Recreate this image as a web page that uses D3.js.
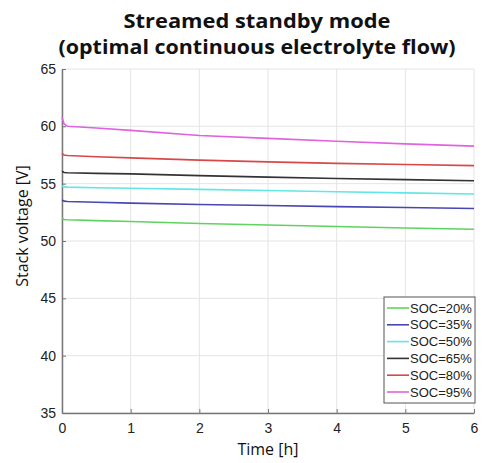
<!DOCTYPE html>
<html>
<head>
<meta charset="utf-8">
<title>Streamed standby mode</title>
<script src="https://cdn.jsdelivr.net/npm/d3@7"></script>
<style>
  body { margin: 0; background: #fff; }
  svg text { font-family: "Liberation Sans", Arial, sans-serif; }
</style>
</head>
<body>
<div id="chart"></div>
<script>
  // time points [h]
  var times = [0, 0.03, 0.08, 0.5, 1, 2, 3, 4, 5, 6];

  // stack voltage per SOC [V]
  var soc20 = [51.98, 51.88, 51.85, 51.78, 51.7, 51.52, 51.4, 51.26, 51.14, 51.03];
  var soc35 = [53.58, 53.48, 53.45, 53.38, 53.3, 53.18, 53.1, 53.0, 52.92, 52.83];
  var soc50 = [54.8, 54.72, 54.7, 54.65, 54.6, 54.5, 54.4, 54.3, 54.2, 54.1];
  var soc65 = [56.1, 55.98, 55.95, 55.9, 55.85, 55.7, 55.57, 55.45, 55.35, 55.26];
  var soc80 = [57.65, 57.5, 57.45, 57.35, 57.25, 57.05, 56.9, 56.77, 56.67, 56.57];
  var soc95 = [60.8, 60.2, 60.0, 59.85, 59.65, 59.2, 58.95, 58.7, 58.47, 58.27];

  var labels = ["SOC=20%", "SOC=35%", "SOC=50%", "SOC=65%", "SOC=80%", "SOC=95%"];
  var colors = ["#5fd35f", "#4646b4", "#62e6e6", "#333333", "#d94848", "#e062e0"];
  var seriesValues = [soc20, soc35, soc50, soc65, soc80, soc95];

  var xTicks = [0, 1, 2, 3, 4, 5, 6];
  var yTicks = [35, 40, 45, 50, 55, 60, 65];

  var margin = {left: 62, right: 12, top: 69, bottom: 50};
  var W = 486, H = 463;
  var wid = W - margin.left - margin.right;
  var high = H - margin.top - margin.bottom;

  var svg = d3.select("#chart").append("svg")
    .attr("width", W).attr("height", H);

  // title
  var title = svg.append("g").attr("font-weight", "bold").attr("fill", "#111");
  title.append("text").text("Streamed  standby mode")
    .attr("x", 257).attr("y", 28).attr("text-anchor", "middle")
    .style("font-family", "'Open Sans', sans-serif").attr("font-size", 19)
    .attr("textLength", 267).attr("lengthAdjust", "spacingAndGlyphs");
  title.append("text").text("(optimal continuous electrolyte flow)")
    .attr("x", 257).attr("y", 54).attr("text-anchor", "middle")
    .style("font-family", "'Open Sans', sans-serif").attr("font-size", 19)
    .attr("textLength", 397).attr("lengthAdjust", "spacingAndGlyphs");

  var g = svg.append("g")
    .attr("transform", translate(margin.left, margin.top));

  var x = d3.scaleLinear().domain([0, 6]).range([0, wid]);
  var y = d3.scaleLinear().domain([35, 65]).range([high, 0]);

  // grid
  g.selectAll(".vgrid").data(xTicks).enter().append("line")
    .attr("x1", function(d) { return x(d); }).attr("x2", function(d) { return x(d); })
    .attr("y1", 0).attr("y2", high)
    .attr("stroke", "#e4e4e4").attr("stroke-width", 1);
  g.selectAll(".hgrid").data(yTicks).enter().append("line")
    .attr("x1", 0).attr("x2", wid)
    .attr("y1", function(d) { return y(d); }).attr("y2", function(d) { return y(d); })
    .attr("stroke", "#e4e4e4").attr("stroke-width", 1);

  // axes
  var xaxis = d3.axisBottom(x).tickValues(xTicks).tickFormat(d3.format("d"))
    .tickSizeInner(-4).tickSizeOuter(0).tickPadding(10);
  var yaxis = d3.axisLeft(y).tickValues(yTicks).tickFormat(d3.format("d"))
    .tickSizeInner(-4).tickSizeOuter(0).tickPadding(8);

  var gx = g.append("g").attr("transform", translate(0, high)).call(xaxis);
  var gy = g.append("g").call(yaxis);
  [gx, gy].forEach(function(a) {
    a.select(".domain").attr("stroke", "#777").attr("stroke-width", 1.5);
    a.selectAll(".tick line").attr("stroke", "#777");
    a.selectAll(".tick text").attr("font-size", 14).attr("fill", "#222")
      .style("font-family", "'Liberation Sans', Arial, sans-serif");
  });
  gy.selectAll(".tick text").attr("dx", "2");

  // lines
  var line = d3.line()
    .x(function(d) { return x(d[0]); })
    .y(function(d) { return y(d[1]); });

  seriesValues.forEach(function(vals, i) {
    g.append("path")
      .datum(times.map(function(t, j) { return [t, vals[j]]; }))
      .attr("fill", "none")
      .attr("stroke", colors[i])
      .attr("stroke-width", 1.6)
      .attr("d", line);
  });

  // axis titles
  g.append("text").text("Time [h]")
    .attr("x", 206).attr("y", high + 42).attr("text-anchor", "middle")
    .attr("font-size", 16).attr("fill", "#111")
    .style("font-family", "'Open Sans', sans-serif");
  g.append("text").text("Stack voltage [V]")
    .attr("text-anchor", "middle").attr("font-size", 16).attr("fill", "#111")
    .style("font-family", "'Open Sans', sans-serif")
    .attr("transform", translate(-34, 157) + " rotate(-90)");

  // legend
  var lx = 384 - margin.left, ly = 297 - margin.top;
  var legend = g.append("g").attr("transform", translate(lx, ly));
  legend.append("rect").attr("width", 91).attr("height", 106)
    .attr("fill", "#fff").attr("stroke", "#555").attr("stroke-width", 1);
  labels.forEach(function(lab, i) {
    var yy = 11 + i * 16.8;
    legend.append("line").attr("x1", 3).attr("x2", 25)
      .attr("y1", yy).attr("y2", yy)
      .attr("stroke", colors[i]).attr("stroke-width", 1.6);
    legend.append("text").text(lab)
      .attr("x", 26).attr("y", yy + 4.5)
      .attr("font-size", 13).attr("fill", "#222");
  });

  function translate(a, b) {
    return "translate(" + a + "," + b + ")";
  }
</script>
</body>
</html>
